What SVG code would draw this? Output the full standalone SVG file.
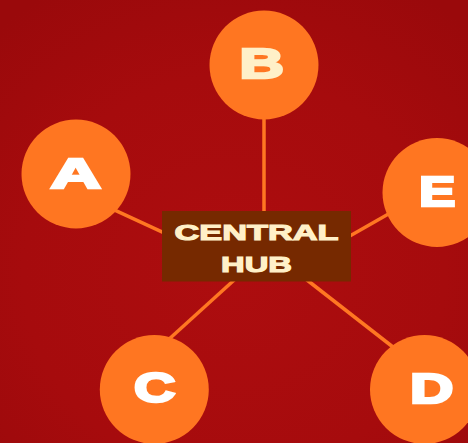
<svg xmlns="http://www.w3.org/2000/svg" width="468" height="443" viewBox="0 0 468 443">
  <defs>
    <radialGradient id="bg" cx="0.5" cy="0.62" r="0.75">
      <stop offset="0" stop-color="#AD0D0F"/>
      <stop offset="0.6" stop-color="#A60B0D"/>
      <stop offset="1" stop-color="#9A090B"/>
    </radialGradient>
  </defs>
  <style>
    .edge { stroke: #FF7722; stroke-width: 3.5; fill: none; }
    .node circle { fill: #FF7621; }
    .letter { font-family: "Liberation Sans", "DejaVu Sans", sans-serif; font-weight: 900; font-size: 43px; text-anchor: middle; fill: #FFFFFF; stroke: #FFFFFF; stroke-width: 2.6; stroke-linejoin: miter; }
    .cream { fill: #FFF0C8; stroke: #FFF0C8; }
    .hubtext { font-family: "Liberation Sans", "DejaVu Sans", sans-serif; font-weight: 900; font-size: 21.5px; text-anchor: middle; fill: #FFF0C8; stroke: #FFF0C8; stroke-width: 1.1; }
  </style>
  <rect x="0" y="0" width="468" height="443" fill="url(#bg)"/>
  <g id="connectors">
    <line class="edge" x1="105" y1="205.7" x2="170" y2="235.6"/>
    <line class="edge" x1="264" y1="110" x2="264" y2="220"/>
    <line class="edge" x1="345" y1="238.8" x2="395" y2="210.3"/>
    <line class="edge" x1="239.7" y1="275" x2="162.6" y2="345"/>
    <line class="edge" x1="300.6" y1="275" x2="403.2" y2="355"/>
  </g>
  <g id="hub">
    <rect x="162" y="211" width="189" height="70.5" fill="#762900"/>
    <text class="hubtext" x="256.5" y="240.2" textLength="164" lengthAdjust="spacingAndGlyphs">CENTRAL</text>
    <text class="hubtext" x="256.5" y="272.2" textLength="71" lengthAdjust="spacingAndGlyphs">HUB</text>
  </g>
  <g id="node-a" class="node">
    <circle cx="76" cy="174" r="54.5"/>
    <text class="letter" x="75.8" y="187.8" textLength="50.4" lengthAdjust="spacingAndGlyphs">A</text>
  </g>
  <g id="node-b" class="node">
    <circle cx="264" cy="65" r="54.5"/>
    <text class="letter cream" x="261.7" y="78.1" textLength="44.4" lengthAdjust="spacingAndGlyphs">B</text>
  </g>
  <g id="node-e" class="node">
    <circle cx="437" cy="192.5" r="54.5"/>
    <text class="letter" x="437.2" y="205.8" textLength="36.4" lengthAdjust="spacingAndGlyphs">E</text>
  </g>
  <g id="node-c" class="node">
    <circle cx="154.3" cy="389.5" r="54.5"/>
    <text class="letter" x="154.7" y="402.3" textLength="41.4" lengthAdjust="spacingAndGlyphs">C</text>
  </g>
  <g id="node-d" class="node">
    <circle cx="424.5" cy="389.5" r="54.5"/>
    <text class="letter" x="431.8" y="402.8" textLength="43.4" lengthAdjust="spacingAndGlyphs">D</text>
  </g>
</svg>
